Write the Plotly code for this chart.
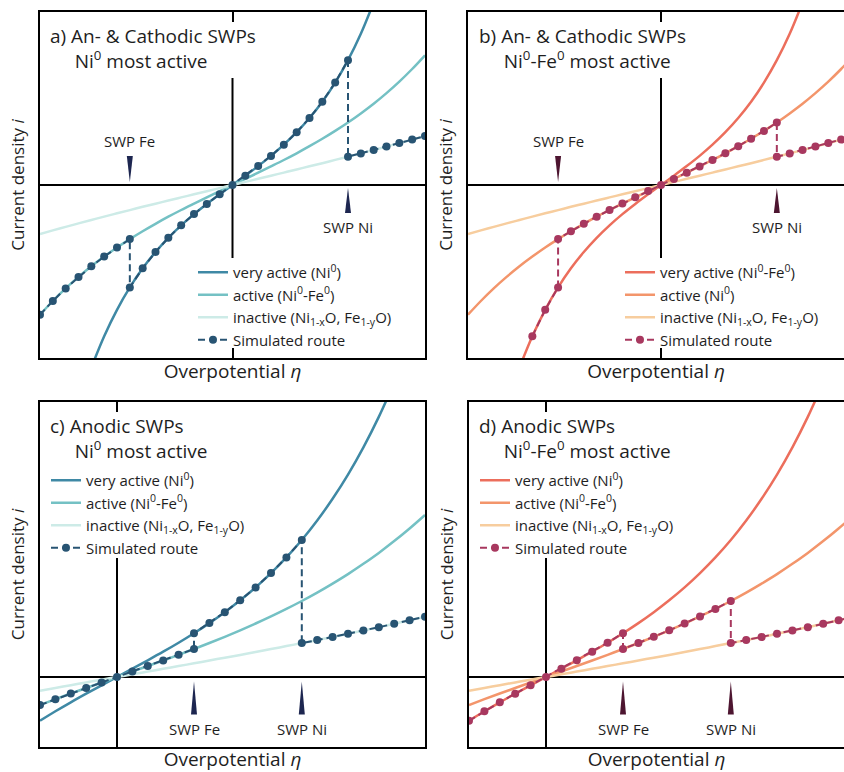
import plotly.graph_objects as go

W, H = 844, 772

# ---------------- data (arbitrary units) ----------------
# top row: panels a) and b)  (x in route steps, y in current-density units)
ETA_TOP = [-15, -14, -13, -12, -11, -10, -9, -8, -7, -6, -5, -4, -3, -2, -1, 0,
           1, 2, 3, 4, 5, 6, 7, 8, 9, 10, 11, 12, 13, 14, 15]
ETA_TOP_FAST = [-11, -10, -9, -8, -7, -6, -5, -4, -3, -2, -1, 0,
                1, 2, 3, 4, 5, 6, 7, 8, 9, 10, 11]
I_FAST_TOP = [-18.26, -15.12, -12.48, -10.24, -8.33, -6.70, -5.28, -4.03, -2.91, -1.89, -0.93, 0.0,
              0.93, 1.89, 2.91, 4.03, 5.28, 6.70, 8.33, 10.24, 12.48, 15.12, 18.26]
I_MID_TOP = [-12.97, -11.60, -10.34, -9.19, -8.13, -7.16, -6.25, -5.41, -4.62, -3.88, -3.17, -2.50, -1.86, -1.23, -0.61, 0.0,
             0.61, 1.23, 1.86, 2.50, 3.17, 3.88, 4.62, 5.41, 6.25, 7.16, 8.13, 9.19, 10.34, 11.60, 12.97]
I_SLOW_TOP = [-4.90, -4.54, -4.19, -3.84, -3.50, -3.16, -2.83, -2.51, -2.18, -1.87, -1.55, -1.24, -0.93, -0.62, -0.31, 0.0,
              0.31, 0.62, 0.93, 1.24, 1.55, 1.87, 2.18, 2.51, 2.83, 3.16, 3.50, 3.84, 4.19, 4.54, 4.90]

# bottom row: panels c) and d)
ETA_BOT = [-5, -4, -3, -2, -1, 0, 1, 2, 3, 4, 5, 6, 7, 8, 9, 10, 11, 12, 13, 14, 15, 16, 17, 18, 19, 20]
ETA_BOT_FAST = [-5, -4, -3, -2, -1, 0, 1, 2, 3, 4, 5, 6, 7, 8, 9, 10, 11, 12, 13, 14, 15, 16, 17, 18]
I_FAST_BOT = [-4.38, -3.43, -2.53, -1.67, -0.83, 0.0, 0.83, 1.67, 2.53, 3.43, 4.38, 5.39, 6.48, 7.67,
              8.96, 10.39, 11.96, 13.70, 15.65, 17.82, 20.24, 22.96, 26.01, 29.43]
I_MID_BOT = [-2.80, -2.22, -1.65, -1.10, -0.55, 0.0, 0.55, 1.10, 1.65, 2.22, 2.80, 3.40, 4.02, 4.67,
             5.35, 6.06, 6.81, 7.60, 8.44, 9.34, 10.29, 11.32, 12.41, 13.59, 14.85, 16.20]
I_SLOW_BOT = [-1.37, -1.09, -0.82, -0.54, -0.27, 0.0, 0.27, 0.54, 0.82, 1.09, 1.37, 1.65, 1.93, 2.21,
              2.50, 2.79, 3.09, 3.39, 3.69, 4.00, 4.32, 4.65, 4.98, 5.32, 5.67, 6.03]

SWP_LABELS = ["SWP Fe", "SWP Ni"]
SWP_TOP = [-8, 9]      # switching potentials, panels a) b)
SWP_BOT = [5, 12]      # switching potentials, panels c) d)
ROUTE_START_B = -10    # first simulated point of panel b)

LEG_A = ["very active (Ni<sup>0</sup>)", "active (Ni<sup>0</sup>-Fe<sup>0</sup>)",
         "inactive (Ni<sub>1-x</sub>O, Fe<sub>1-y</sub>O)", "Simulated route"]
LEG_B = ["very active (Ni<sup>0</sup>-Fe<sup>0</sup>)", "active (Ni<sup>0</sup>)",
         "inactive (Ni<sub>1-x</sub>O, Fe<sub>1-y</sub>O)", "Simulated route"]
LEG_C = LEG_A
LEG_D = LEG_A

NB = "\u00a0" * 5
TITLES = ["a) An- & Cathodic SWPs<br>" + NB + "Ni<sup>0</sup> most active",
          "b) An- & Cathodic SWPs<br>" + NB + "Ni<sup>0</sup>-Fe<sup>0</sup> most active",
          "c) Anodic SWPs<br>" + NB + "Ni<sup>0</sup> most active",
          "d) Anodic SWPs<br>" + NB + "Ni<sup>0</sup>-Fe<sup>0</sup> most active"]

# ---------------- styles ----------------
FONT = "Open Sans"
TXT = "#1e1e1e"
BLUES = dict(fast="#3f89a5", mid="#74c1c4", slow="#cdebe7", route="#285473", wedge="#1d2650")
REDS = dict(fast="#ec6e5c", mid="#f3956b", slow="#f7cd9e", route="#a8385f", wedge="#4d1530")


def route(pieces):
    xs, ys = [], []
    for ex, iy, lo, hi in pieces:
        for e, v in zip(ex, iy):
            if lo <= e <= hi:
                xs.append(e)
                ys.append(v)
    return xs, ys


fig = go.Figure()

panels = [
    dict(ax="", leg="legend", col=BLUES, labels=LEG_A, swp=SWP_TOP,
         curves=[(ETA_TOP_FAST, I_FAST_TOP), (ETA_TOP, I_MID_TOP), (ETA_TOP, I_SLOW_TOP)],
         route=route([(ETA_TOP, I_MID_TOP, ETA_TOP[0], SWP_TOP[0]),
                      (ETA_TOP_FAST, I_FAST_TOP, SWP_TOP[0], SWP_TOP[1]),
                      (ETA_TOP, I_SLOW_TOP, SWP_TOP[1], ETA_TOP[-1])]),
         xr=[-15, 15], yr=[-17.3, 17.3], dx=[40, 425], dy=[12, 358], mirror=True,
         vseg=[-7.3, 10.7], top=True),
    dict(ax="2", leg="legend2", col=REDS, labels=LEG_B, swp=SWP_TOP,
         curves=[(ETA_TOP_FAST, I_FAST_TOP), (ETA_TOP, I_MID_TOP), (ETA_TOP, I_SLOW_TOP)],
         route=route([(ETA_TOP_FAST, I_FAST_TOP, ROUTE_START_B, SWP_TOP[0]),
                      (ETA_TOP, I_MID_TOP, SWP_TOP[0], SWP_TOP[1]),
                      (ETA_TOP, I_SLOW_TOP, SWP_TOP[1], ETA_TOP[-1])]),
         xr=[-15, 14.22], yr=[-17.3, 17.3], dx=[468, 844], dy=[12, 358], mirror=False,
         vseg=[-7.3, 10.7], top=True),
    dict(ax="3", leg="legend3", col=BLUES, labels=LEG_C, swp=SWP_BOT,
         curves=[(ETA_BOT_FAST, I_FAST_BOT), (ETA_BOT, I_MID_BOT), (ETA_BOT, I_SLOW_BOT)],
         route=route([(ETA_BOT, I_MID_BOT, ETA_BOT[0], SWP_BOT[0]),
                      (ETA_BOT_FAST, I_FAST_BOT, SWP_BOT[0], SWP_BOT[1]),
                      (ETA_BOT, I_SLOW_BOT, SWP_BOT[1], ETA_BOT[-1])]),
         xr=[-5, 20], yr=[-7.0, 27.5], dx=[40, 425], dy=[402, 747], mirror=True,
         vseg=[-7.0, 11.9], top=False),
    dict(ax="4", leg="legend4", col=REDS, labels=LEG_D, swp=SWP_BOT,
         curves=[(ETA_BOT_FAST, I_FAST_BOT), (ETA_BOT, I_MID_BOT), (ETA_BOT, I_SLOW_BOT)],
         route=route([(ETA_BOT_FAST, I_FAST_BOT, ETA_BOT[0], SWP_BOT[0]),
                      (ETA_BOT, I_MID_BOT, SWP_BOT[0], SWP_BOT[1]),
                      (ETA_BOT, I_SLOW_BOT, SWP_BOT[1], ETA_BOT[-1])]),
         xr=[-5, 19.35], yr=[-7.0, 27.5], dx=[469, 844], dy=[402, 747], mirror=False,
         vseg=[-7.0, 11.9], top=False),
]

legend_pos = {"legend": (235, 256), "legend2": (662, 256), "legend3": (88, 464), "legend4": (517, 464)}

shapes, annotations = [], []
layout_axes = {}

for p in panels:
    xa, ya = "x" + p["ax"], "y" + p["ax"]
    col = p["col"]
    ckeys = ["fast", "mid", "slow"]
    for (ex, iy), ck, lab in zip(p["curves"], ckeys, p["labels"][:3]):
        fig.add_trace(go.Scatter(x=ex, y=iy, mode="lines", name=lab, xaxis=xa, yaxis=ya,
                                 legend=p["leg"],
                                 line=dict(color=col[ck], width=2.5, shape="spline", smoothing=1.0),
                                 hoverinfo="skip"))
    rx, ry = p["route"]
    fig.add_trace(go.Scatter(x=rx, y=ry, mode="lines+markers", name=p["labels"][3], xaxis=xa, yaxis=ya,
                             legend=p["leg"],
                             line=dict(color=col["route"], width=2, dash="7px,4px"),
                             marker=dict(color=col["route"], size=8)))

    dom_x = [p["dx"][0] / W, p["dx"][1] / W]
    dom_y = [1 - p["dy"][1] / H, 1 - p["dy"][0] / H]
    layout_axes["xaxis" + p["ax"]] = dict(
        domain=dom_x, range=p["xr"], anchor=ya, showgrid=False, zeroline=False,
        showline=True, linecolor="black", linewidth=2, mirror="allticks",
        ticks="inside", tickvals=[0], ticklen=10, tickwidth=2, tickcolor="black",
        showticklabels=False,
        title=dict(text="Overpotential <i>η</i>", standoff=6, font=dict(size=19, color=TXT, family=FONT)))
    layout_axes["yaxis" + p["ax"]] = dict(
        domain=dom_y, range=p["yr"], anchor=xa, showgrid=False, zeroline=False,
        showline=True, linecolor="black", linewidth=2, mirror=p["mirror"],
        ticks="", showticklabels=False,
        title=dict(text="Current density <i>i</i>", standoff=9, font=dict(size=17, color=TXT, family=FONT)))

    # zero lines
    shapes.append(dict(type="line", xref=xa + " domain", yref=ya, x0=0, x1=1, y0=0, y1=0,
                       line=dict(color="black", width=2), layer="below"))
    shapes.append(dict(type="line", xref=xa, yref=ya, x0=0, x1=0, y0=p["vseg"][0], y1=p["vseg"][1],
                       line=dict(color="black", width=2), layer="below"))

    # SWP wedges and labels
    xscale = (p["xr"][1] - p["xr"][0]) / (p["dx"][1] - p["dx"][0])  # data units per px
    hw = 3.0 * xscale
    for i, (lab, e) in enumerate(zip(SWP_LABELS, p["swp"])):
        if p["top"] and i == 0:
            y_base, y_tip, y_txt = 2.9, 0.3, 4.45
        elif p["top"]:
            y_base, y_tip, y_txt = -2.8, -0.3, -4.2
        else:
            y_base, y_tip, y_txt = -3.75, -0.45, -5.15
        shapes.append(dict(type="path", xref=xa, yref=ya,
                           path=f"M {e - hw},{y_base} L {e + hw},{y_base} L {e},{y_tip} Z",
                           fillcolor=col["wedge"], line=dict(width=0)))
        annotations.append(dict(x=e, y=y_txt, xref=xa, yref=ya, text=lab, showarrow=False,
                                font=dict(size=15, color=TXT, family=FONT),
                                xanchor="center", yanchor="middle"))

# panel titles (two lines, second one indented)
title_pos = [(48, 48), (477, 48), (48, 438), (477, 438)]
for txt, (x1, yc) in zip(TITLES, title_pos):
    annotations.append(dict(x=x1 / W, y=1 - yc / H, xref="paper", yref="paper", text=txt, showarrow=False,
                            xanchor="left", yanchor="middle", align="left",
                            font=dict(size=19, color=TXT, family=FONT)))

legends = {}
for name, (tx, ty) in legend_pos.items():
    legends[name] = dict(x=(tx - 42) / W, y=1 - ty / H, xanchor="left", yanchor="top",
                         bgcolor="rgba(0,0,0,0)", borderwidth=0,
                         font=dict(size=15, color=TXT, family=FONT), tracegroupgap=0)

fig.update_layout(
    width=W, height=H, margin=dict(l=0, r=0, t=0, b=0),
    paper_bgcolor="white", plot_bgcolor="white",
    font=dict(family=FONT, color=TXT),
    shapes=shapes, annotations=annotations, showlegend=True,
    **layout_axes, **legends,
)

fig.write_html("out.html", config={"displayModeBar": False},
               post_script="document.body.style.margin='0px';")
